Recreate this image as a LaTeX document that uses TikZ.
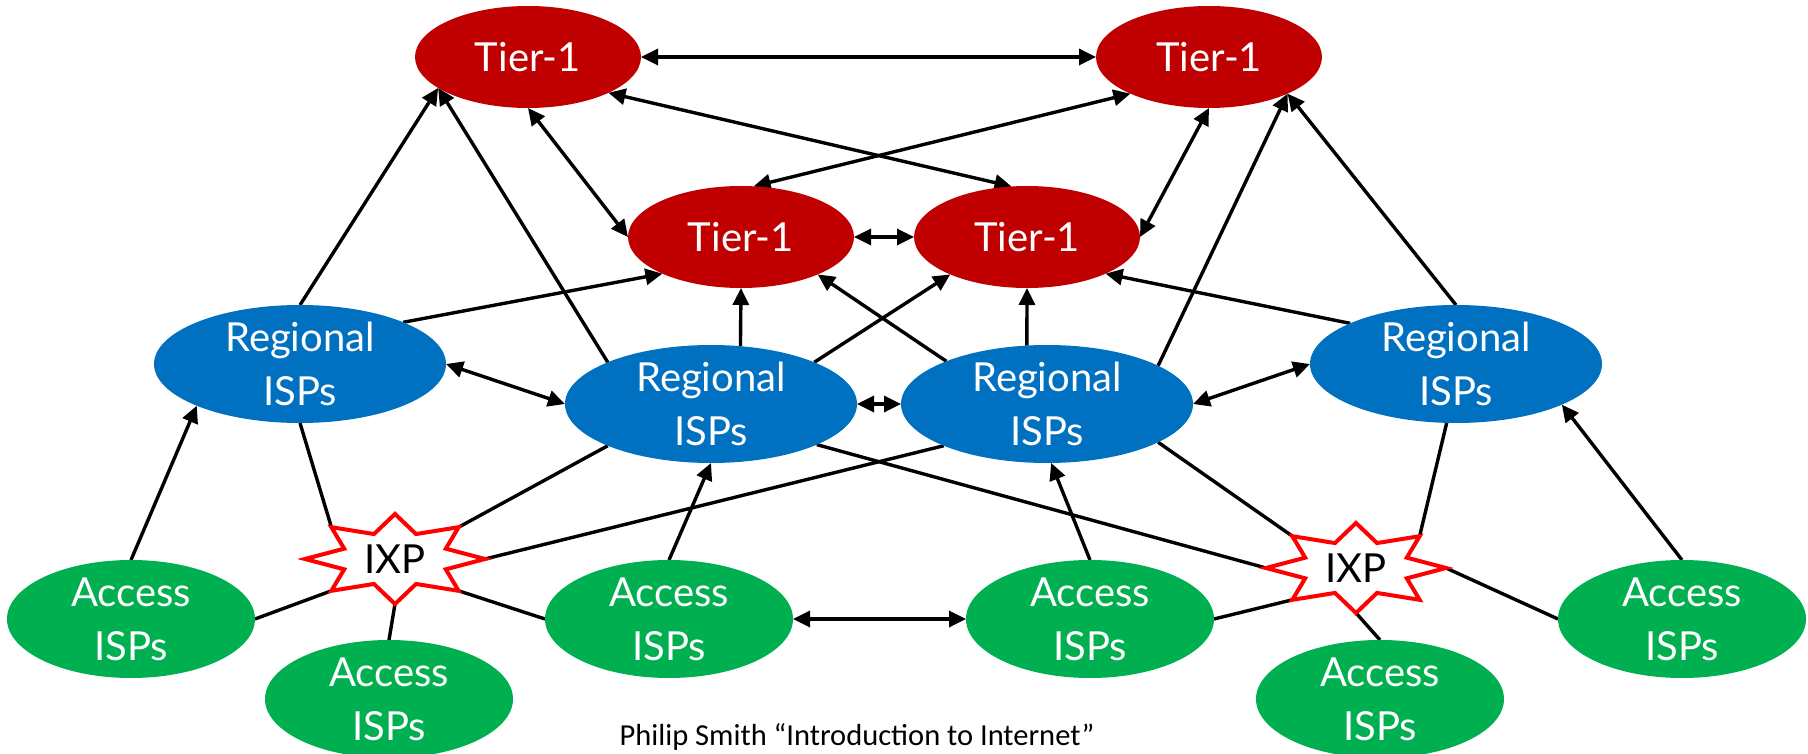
\documentclass[tikz,border=0pt]{standalone}
\usepackage{fontspec}
\setmainfont{Lato}
\newfontfamily\capfont{Carlito}
\usetikzlibrary{arrows.meta,shapes.geometric,backgrounds}
\definecolor{tierred}{RGB}{192,0,0}
\definecolor{regblue}{RGB}{0,112,192}
\definecolor{accgreen}{RGB}{0,176,80}
\definecolor{ixpred}{RGB}{255,0,0}

% IXP: an eight-pointed, horizontally stretched star with named outer points
\newcommand\drawixp[3]{%
  \draw[ixpstar] ([shift={(#2,#3)}]0:90 and 45)
    \foreach \k in {0,...,6}{ -- ([shift={(#2,#3)}]{\k*45+22.5}:55 and 27)
                              -- ([shift={(#2,#3)}]{\k*45+45}:90 and 45) }
    -- ([shift={(#2,#3)}]337.5:55 and 27) -- cycle;
  \node[ixplbl] (#1) at (#2,#3) {IXP};
}
\newcommand\ixppoints[3]{%
  \coordinate (#1-e)  at (#2+90,#3);
  \coordinate (#1-w)  at (#2-90,#3);
  \coordinate (#1-n)  at (#2,#3-45);
  \coordinate (#1-s)  at (#2,#3+45);
  \coordinate (#1-ne) at (#2+63.6,#3-31.8);
  \coordinate (#1-nw) at (#2-63.6,#3-31.8);
  \coordinate (#1-se) at (#2+63.6,#3+31.8);
  \coordinate (#1-sw) at (#2-63.6,#3+31.8);
}

\begin{document}
\begin{tikzpicture}[x=1pt,y=-1pt,
  isp/.style={ellipse, draw=none, inner sep=0pt, outer sep=0pt},
  tier/.style={isp, fill=tierred, minimum width=226pt, minimum height=102pt},
  regional/.style={isp, fill=regblue, minimum width=292pt, minimum height=118pt},
  access/.style={isp, fill=accgreen, minimum width=248pt, minimum height=118pt},
  lbl/.style={text=white, font=\fontsize{40}{54}\selectfont, align=center, inner sep=0pt},
  ixpstar/.style={draw=ixpred, fill=white, line width=4pt, line join=miter},
  ixplbl/.style={font=\fontsize{40}{48}\selectfont, inner sep=0pt, text=black},
  link/.style={line width=3.4pt, black},
  tip/.tip={Triangle[length=17pt,width=16pt]},
  up/.style={link, -tip},
  both/.style={link, tip-tip},
  caption/.style={font=\capfont\fontsize{30.5}{36}\selectfont, anchor=base, inner sep=0pt},
]
\useasboundingbox (0,0) rectangle (1808,754);

% Tier-1 providers
\node[tier, label={[lbl]center:Tier-1}] (t1) at (528,57) {};
\node[tier, label={[lbl]center:Tier-1}] (t2) at (1209,57) {};
\node[tier, label={[lbl]center:Tier-1}] (t3) at (741,237) {};
\node[tier, label={[lbl]center:Tier-1}] (t4) at (1027,237) {};

% Regional ISPs
\node[regional, label={[lbl]center:{Regional\\ISPs}}] (r1) at (300,364) {};
\node[regional, label={[lbl]center:{Regional\\ISPs}}] (r2) at (711,404) {};
\node[regional, label={[lbl]center:{Regional\\ISPs}}] (r3) at (1047,404) {};
\node[regional, label={[lbl]center:{Regional\\ISPs}}] (r4) at (1456,364) {};

% Access ISPs
\node[access, label={[lbl]center:{Access\\ISPs}}] (a1) at (131,619) {};
\node[access, label={[lbl]center:{Access\\ISPs}}] (a2) at (389,699) {};
\node[access, label={[lbl]center:{Access\\ISPs}}] (a3) at (669,619) {};
\node[access, label={[lbl]center:{Access\\ISPs}}] (a4) at (1090,619) {};
\node[access, label={[lbl]center:{Access\\ISPs}}] (a5) at (1380,699) {};
\node[access, label={[lbl]center:{Access\\ISPs}}] (a6) at (1682,619) {};

% Exchange points
\ixppoints{x1}{395}{559}
\ixppoints{x2}{1356}{568}
\drawixp{x1}{395}{559}
\drawixp{x2}{1356}{568}

\begin{scope}[on background layer]
  % peering among Tier-1
  \draw[both] (t1.east) -- (t2.west);
  \draw[both] (t1.-24) -- (t4.107);
  \draw[both] (t2.205) -- (t3.76);
  \draw[both] (t1.south) -- (t3.west);
  \draw[both] (t2.south) -- (t4.east);
  \draw[both] (t3.east) -- (t4.west);

  % regional customers of Tier-1
  \draw[up] (r1.north) -- (t1.199);
  \draw[up] (r2.158) -- (t1.199);
  \draw[up] (r1.22) -- (t3.205);
  \draw[up] (r2.63) -- (t3.south);
  \draw[up] (r2.22) -- (t4.206);
  \draw[up] (r3.157) -- (t3.-26);
  \draw[up] (r3.109) -- (t4.south);
  \draw[up] (r3.19) -- (t2.-25);
  \draw[up] (r4.north) -- (t2.-25);
  \draw[up] (r4.159) -- (t4.-25);

  % regional peering
  \draw[both] (r1.east) -- (r2.west);
  \draw[both] (r2.east) -- (r3.west);
  \draw[both] (r3.east) -- (r4.west);

  % access customers of regionals
  \draw[up] (a1.north) -- (r1.202);
  \draw[up] (a3.north) -- (r2.south);
  \draw[up] (a4.north) -- (r3.-86);
  \draw[up] (a6.north) -- (r4.-21);
  \draw[both] (a3.east) -- (a4.west);

  % links into the exchange points
  \draw[link] (x1-sw) -- (a1.east);
  \draw[link] (x1-s) -- (a2.north);
  \draw[link] (x1-se) -- (a3.west);
  \draw[link] (x1-nw) -- (r1.south);
  \draw[link] (x1-ne) -- (r2.202);
  \draw[link] (x1-e) -- (r3.202);
  \draw[link] (x2-sw) -- (a4.east);
  \draw[link] (x2-s) -- (a5.north);
  \draw[link] (x2-e) -- (a6.west);
  \draw[link] (x2-ne) -- (r4.-99);
  \draw[link] (x2-nw) -- (r3.-19);
  \draw[link] (x2-w) -- (r2.-21);
\end{scope}

\node[caption] (cap) at (857,745) {Philip Smith “Introduction to Internet”};
\end{tikzpicture}
\end{document}
